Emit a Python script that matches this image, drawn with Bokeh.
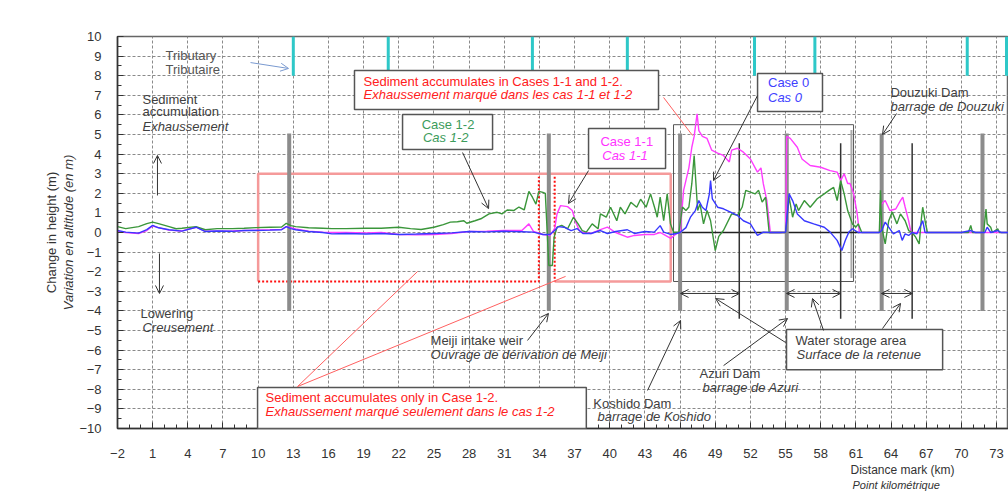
from bokeh.plotting import figure
from bokeh.models import Range1d, FixedTicker, Label, BoxAnnotation, Arrow, OpenHead, LinearAxis, Title
from bokeh.embed import file_html
from bokeh.resources import INLINE

# ---------------- data ----------------
x_ticks = list(range(-2, 74, 3))
y_ticks = list(range(-10, 11))

case0_km = [-2.0, -1.3, -0.2, 0.5, 1.0, 1.5, 2.4, 3.5, 4.7, 5.5, 6.5, 7.8, 8.8, 9.8, 11.0, 12.0, 12.4, 12.8,
            13.2, 14.3, 15.5, 16.3, 17.5, 19.2, 20.5, 22.0, 23.5, 25.0, 26.5, 28.0, 29.5, 31.0, 32.5, 33.5,
            34.3, 34.9, 35.3, 35.6, 36.1, 36.7, 37.2, 37.7, 38.4, 39.2, 39.8, 40.5, 41.5, 42.1, 43.0, 43.8,
            44.3, 44.6, 45.2, 45.7, 46.0, 46.5, 46.9, 47.3, 47.6, 47.9, 48.2, 48.5, 48.6, 48.75, 49.2, 49.7,
            50.3, 50.9, 51.4, 52.0, 52.6, 53.1, 53.7, 54.5, 55.0, 55.3, 55.6, 56.0, 56.6, 57.4, 58.3, 58.8,
            59.4, 59.8, 60.1, 60.4, 60.7, 61.2, 62.0, 63.0, 63.2, 63.5, 63.8, 64.2, 64.7, 64.95, 65.2, 65.5,
            65.8, 66.2, 66.7, 66.9, 68.0, 70.0, 70.8, 71.2, 72.0, 72.2, 72.5, 73.1, 73.4, 74.0]
case0_dz = [0.1, 0.02, -0.03, 0.15, 0.36, 0.24, 0.14, 0.07, 0.27, 0.05, 0.08, 0.06, 0.1, 0.1, 0.12, 0.14, 0.3, 0.2,
            0.14, 0.05, 0.0, -0.07, -0.05, -0.08, -0.05, -0.1, -0.08, -0.05, -0.02, 0.05, 0.03, 0.06, 0.04, 0.02,
            -0.1, -0.1, 0.1, 0.3, 0.27, 0.1, 0.2, -0.05, -0.05, 0.1, -0.05, 0.05, 0.14, -0.05, 0.05, 0.02,
            0.35, 0.02, -0.1, -0.05, 0.0, 0.25, 0.8, 1.12, 1.63, 1.29, 1.12, 1.97, 2.65, 1.72, 1.29, 1.21,
            1.04, 0.87, 0.6, 0.44, -0.15, 0.02, 0.0, 0.0, 0.02, 1.97, 1.63, 0.95, 0.6, 0.44, 0.27, 0.02,
            -0.4, -0.92, -0.4, 0.02, 0.19, 0.0, 0.0, 0.0, 0.1, 0.53, 0.27, -0.07, 0.1, -0.4, -0.07, -0.15,
            0.0, -0.07, 0.6, 0.0, 0.0, 0.0, 0.1, 0.0, 0.0, 0.27, 0.0, 0.1, 0.0, 0.0]

case11_km = [-2.0, -1.3, -0.2, 0.5, 1.0, 1.5, 2.4, 3.5, 4.7, 5.5, 6.5, 7.8, 8.8, 9.8, 11.0, 12.0, 12.4, 12.8,
             13.2, 14.3, 15.5, 16.3, 17.5, 19.2, 20.5, 22.0, 23.5, 25.0, 26.5, 28.0, 29.5, 31.0, 32.5, 33.1,
             33.5, 34.3, 34.9, 35.3, 35.5, 35.8, 36.4, 36.8, 37.1, 37.4, 37.7, 38.4, 39.2, 39.8, 40.5, 41.5,
             42.1, 43.0, 43.8, 44.3, 44.6, 45.2, 45.7, 46.0, 46.3, 46.75, 47.0, 47.2, 47.45, 47.6, 47.9, 48.3,
             48.7, 49.2, 49.7, 50.2, 50.4, 50.9, 51.4, 52.0, 52.6, 52.9, 53.1, 53.4, 53.7, 54.5, 55.0, 55.1,
             55.4, 56.0, 56.4, 57.1, 58.0, 58.8, 59.4, 59.7, 60.0, 60.3, 60.5, 60.8, 61.1, 61.3, 62.0, 63.0,
             63.2, 63.5, 63.9, 64.4, 64.8, 65.0, 65.2, 65.5, 65.7, 68.0, 74.0]
case11_dz = [0.05, 0.0, -0.05, 0.1, 0.33, 0.25, 0.12, 0.08, 0.27, 0.06, 0.06, 0.08, 0.1, 0.12, 0.14, 0.16, 0.3, 0.25,
             0.18, 0.07, 0.02, 0.0, 0.0, -0.02, 0.0, -0.1, -0.12, -0.1, -0.05, 0.05, 0.07, 0.1, 0.1, 0.44,
             0.05, -0.1, -0.15, 0.2, 0.95, 1.37, 1.32, 1.12, 0.53, 0.1, 0.0, -0.05, 0.15, 0.27, 0.0, -0.24,
             -0.15, -0.1, -0.1, 0.0, -0.1, -0.3, -0.05, 0.0, 2.15, 3.3, 4.35, 4.9, 6.05, 5.2, 4.9, 4.8,
             4.2, 4.05, 3.93, 3.6, 4.2, 4.3, 4.1, 3.75, 3.08, 3.3, 2.49, 1.64, 0.0, 0.0, 0.0, 4.9,
             4.8, 4.35, 3.75, 3.42, 3.33, 3.16, 3.08, 2.65, 3.0, 2.5, 2.5, 2.0, 1.0, 0.0, 0.0, 0.0,
             1.46, 1.63, 1.12, 1.2, 1.63, 1.8, 1.3, 0.6, 0.0, 0.0, 0.0]

case12_km = [-2.0, -1.3, -0.2, 0.5, 1.0, 1.5, 2.4, 3.0, 3.5, 4.7, 5.5, 6.5, 7.8, 8.8, 9.8, 11.0, 12.0, 12.4,
             12.8, 13.2, 14.3, 15.5, 16.3, 17.5, 19.2, 20.5, 22.0, 23.0, 23.9, 25.0, 25.8, 26.4, 27.0, 27.55,
             27.8, 28.5, 29.0, 29.7, 30.4, 30.8, 31.25, 31.8, 32.25, 32.7, 33.1, 33.4, 33.7, 33.95, 34.3, 34.5,
             34.8, 35.1, 35.25, 35.5, 35.9, 36.4, 36.9, 37.3, 37.65, 38.0, 38.5, 39.0, 39.2, 39.7, 40.07, 40.6,
             40.9, 41.3, 41.8, 42.3, 42.63, 43.1, 43.48, 43.9, 44.05, 44.3, 44.6, 44.9, 45.18, 45.45, 45.9, 46.2,
             46.5, 46.75, 47.0, 47.2, 47.5, 47.7, 48.0, 48.3, 48.6, 49.0, 49.3, 49.7, 50.4, 50.9, 51.3, 51.6,
             52.0, 52.4, 52.7, 53.0, 53.3, 53.6, 55.0, 55.1, 55.3, 55.6, 55.9, 56.1, 56.6, 57.1, 57.7, 58.3,
             58.7, 59.1, 59.4, 59.7, 60.0, 60.3, 60.7, 61.0, 61.2, 61.5, 63.0, 63.1, 63.2, 63.5, 63.8, 64.1,
             64.5, 64.8, 65.2, 65.5, 65.8, 66.1, 66.4, 66.6, 66.7, 66.9, 67.1, 70.6, 70.8, 70.95, 71.9, 72.1,
             72.2, 72.5, 72.65, 73.1, 73.25, 74.0]
case12_dz = [0.3, 0.2, 0.3, 0.45, 0.53, 0.45, 0.3, 0.19, 0.22, 0.3, 0.14, 0.2, 0.2, 0.22, 0.25, 0.27, 0.28, 0.47,
             0.35, 0.3, 0.24, 0.22, 0.2, 0.2, 0.22, 0.22, 0.27, 0.2, 0.15, 0.27, 0.4, 0.53, 0.55, 0.6,
             0.47, 0.6, 0.7, 0.95, 1.03, 0.95, 1.15, 1.12, 1.3, 1.15, 2.1, 1.8, 1.45, 2.1, 2.05, 2.0,
             -1.68, -1.68, -0.24, 0.27, 0.36, 0.19, 0.78, 0.44, 0.1, 0.02, 0.44, 0.19, 0.95, 0.78, 1.29, 0.6,
             1.29, 0.95, 1.54, 1.29, 1.7, 1.29, 1.97, 1.12, 0.78, 1.8, 0.6, 1.97, 0.44, 0.0, 0.0, 1.3,
             1.12, 1.3, 2.49, 3.93, 1.12, 1.46, 0.44, 1.12, 0.6, -0.92, -0.2, 0.1, 0.95, 0.87, 1.3, 2.15,
             2.06, 1.97, 2.15, 1.55, 1.8, 0.0, 0.0, 0.6, 1.8, 0.78, 1.46, 1.12, 1.63, 1.29, 1.72, 1.97,
             2.15, 2.3, 1.63, 2.65, 1.97, 1.12, 0.44, 0.27, 0.44, 0.0, 0.0, 2.15, 0.27, -0.58, 0.6, 1.04,
             0.44, 0.95, 0.6, 0.1, 0.0, -0.24, -0.58, 0.78, 1.29, 0.6, 0.0, 0.0, 0.36, 0.0, 0.0, 1.2,
             0.44, 0.27, 0.0, 0.19, 0.0, 0.0]

dam_km = [12.65, 34.8, 46.0, 55.1, 63.2, 71.8]          # thick grey bars
storage_end_km = [51.05, 59.7, 65.8]                   # thin black bars
tributary_km = [13.0, 21.1, 33.4, 41.5, 52.35, 57.5, 70.5, 73.85]

# ---------------- figure ----------------
FONT = "Liberation Sans"
p = figure(width=1008, height=492, x_range=Range1d(-2, 74.02), y_range=Range1d(-10, 10),
           output_backend="svg", toolbar_location=None,
           min_border_left=117, min_border_right=0, min_border_top=36, min_border_bottom=64)
p.background_fill_color = "white"
p.border_fill_color = "white"
p.outline_line_color = "#666666"
p.outline_line_width = 1.5

p.xaxis.ticker = FixedTicker(ticks=x_ticks, minor_ticks=list(range(-2, 75)))
p.yaxis.ticker = FixedTicker(ticks=y_ticks, minor_ticks=[v * 0.5 for v in range(-20, 21)])
for ax in (p.xaxis[0], p.yaxis[0]):
    ax.axis_line_color = "#333333"
    ax.axis_line_width = 1.5
    ax.major_tick_in = 6
    ax.major_tick_out = 0
    ax.minor_tick_in = 4
    ax.minor_tick_out = 0
    ax.major_tick_line_color = "#333333"
    ax.minor_tick_line_color = "#333333"
    ax.major_label_text_font = FONT
    ax.major_label_text_font_size = "13px"
    ax.major_label_text_color = "#333333"
p.xaxis.major_label_standoff = 20
p.yaxis.major_label_standoff = 16

# y-axis titles (inner italic line on the main axis, outer line on an extra label-only axis)
p.yaxis.axis_label = "Variation en altitude (en m)"
p.yaxis.axis_label_text_font = FONT
p.yaxis.axis_label_text_font_size = "13px"
p.yaxis.axis_label_text_font_style = "italic"
p.yaxis.axis_label_text_color = "#333333"
p.yaxis.axis_label_standoff = 0
outer = LinearAxis(axis_label="Change in height (m)", ticker=FixedTicker(ticks=[]),
                   axis_line_color=None, major_tick_line_color=None, minor_tick_line_color=None,
                   major_tick_in=0, major_tick_out=0, minor_tick_in=0, minor_tick_out=0,
                   major_label_standoff=0, major_label_text_font_size="0px", axis_label_standoff=0,
                   axis_label_text_font=FONT, axis_label_text_font_size="13px",
                   axis_label_text_font_style="normal", axis_label_text_color="#333333")
p.add_layout(outer, "left")

# x-axis titles (placed at the right, as in the original)
p.add_layout(Title(text="Distance mark  (km)", align="left", offset=733, standoff=0,
                   text_font=FONT, text_font_size="12px", text_font_style="normal",
                   text_color="#333333"), "below")
p.add_layout(Title(text="Point kilométrique", align="left", offset=735, standoff=0,
                   text_font=FONT, text_font_size="11px", text_font_style="italic",
                   text_color="#333333"), "below")

p.grid.grid_line_color = "#8a8a8a"
p.grid.grid_line_dash = "3 2"
p.grid.grid_line_width = 1

# -------- region outlines --------
reg_left, reg_right, reg_top, reg_bottom = 10.0, 45.2, 3.0, -2.5
weir_left, weir_right = 33.95, 35.3
pink = "#f59a9a"
p.line([reg_left, reg_left, reg_right, reg_right, weir_right],
       [reg_bottom, reg_top, reg_top, reg_bottom, reg_bottom], line_color=pink, line_width=2.5)
p.line([reg_left, weir_left, weir_left], [reg_bottom, reg_bottom, reg_top - 0.15],
       line_color="#ff1010", line_width=2, line_dash="2 2")
p.line([weir_right, weir_right], [reg_top - 0.15, reg_bottom],
       line_color="#ff1010", line_width=2, line_dash="2 2")

# water storage outline
ws_left, ws_right, ws_top, ws_bottom = 45.44, 60.8, 5.5, -2.5
p.line([ws_left, ws_left, ws_right, ws_right, ws_left],
       [ws_bottom, ws_top, ws_top, ws_bottom, ws_bottom], line_color="#555555", line_width=1)
p.line([60.62, 60.62], [5.2, -2.3], line_color="#555555", line_width=2, line_dash="1 1")

# zero line in reservoir stretch
p.line([45.4, 61.3], [0, 0], line_color="#222222", line_width=1.5)

# tributaries
p.segment(x0=tributary_km, y0=[10] * len(tributary_km), x1=tributary_km, y1=[8] * len(tributary_km),
          line_color="#2ec8c8", line_width=3)
# dams / weir
p.segment(x0=dam_km, y0=[5.05] * len(dam_km), x1=dam_km, y1=[-4.0] * len(dam_km),
          line_color="#8c8c8c", line_width=4)
p.segment(x0=storage_end_km, y0=[4.55] * len(storage_end_km), x1=storage_end_km,
          y1=[-4.4] * len(storage_end_km), line_color="#333333", line_width=1.5)

# -------- series --------
p.line(case11_km, case11_dz, line_color="#ff3dff", line_width=1.4)
p.line(case12_km, case12_dz, line_color="#3a963a", line_width=1.4)
p.line(case0_km, case0_dz, line_color="#3838ff", line_width=1.4)

# -------- annotation boxes --------
def box(l, r, t, b):
    p.add_layout(BoxAnnotation(left=l, right=r, top=t, bottom=b, fill_color="white", fill_alpha=1.0,
                               line_color="#555555", line_width=1.5, line_alpha=1.0))

box(9.95, 38.0, -7.91, -10.0)
box(18.22, 44.16, 8.27, 6.28)
box(22.32, 30.0, 6.02, 4.23)
box(38.19, 44.76, 5.31, 3.27)
box(52.61, 58.15, 8.11, 6.17)
box(55.08, 68.4, -4.95, -7.0)


def txt(x, y, s, color="#404040", italic=False, align="left", size="13px"):
    p.add_layout(Label(x=x, y=y, text=s, text_font=FONT, text_font_size=size, text_color=color,
                       text_font_style="italic" if italic else "normal", text_align=align,
                       text_baseline="middle"))


def arrow(x0, y0, x1, y1, color="#333333", both=False, head=True, width=1.0):
    p.add_layout(Arrow(x_start=x0, y_start=y0, x_end=x1, y_end=y1, line_color=color, line_width=width,
                       end=OpenHead(size=8, line_color=color, line_width=width) if head else None,
                       start=OpenHead(size=8, line_color=color, line_width=width) if both else None))


RED = "#ff2020"
txt(2.1, 9.03, "Tributary", "#555555")
txt(2.1, 8.32, "Tributaire", "#555555")
txt(0.13, 6.79, "Sediment")
txt(0.13, 6.17, "accumulation")
txt(0.13, 5.41, "Exhaussement", italic=True)
txt(-0.04, -4.13, "Lowering")
txt(0.13, -4.85, "Creusement", italic=True)
txt(10.63, -8.42, "Sediment accumulates only in Case 1-2.", RED)
txt(10.63, -9.13, "Exhaussement marqué seulement dans le cas 1-2", RED, italic=True)
txt(18.99, 7.70, "Sediment accumulates in Cases 1-1 and 1-2.", RED)
txt(18.99, 7.04, "Exhaussement marqué dans les cas 1-1 et 1-2", RED, italic=True)
txt(26.2, 5.51, "Case 1-2", "#3c9c5c", align="center")
txt(26.0, 4.85, "Cas 1-2", "#3c9c5c", italic=True, align="center")
txt(41.45, 4.64, "Case 1-1", "#ff33ff", align="center")
txt(41.3, 3.93, "Cas 1-1", "#ff33ff", italic=True, align="center")
txt(53.5, 7.65, "Case 0", "#4040ff")
txt(53.5, 6.89, "Cas 0", "#4040ff", italic=True)
txt(63.95, 7.14, "Douzuki Dam")
txt(63.95, 6.43, "barrage de Douzuki", italic=True)
txt(24.71, -5.51, "Meiji intake  weir")
txt(24.71, -6.22, "Ouvrage de dérivation de Meiji", italic=True)
txt(38.6, -8.72, "Koshido Dam")
txt(38.95, -9.39, "barrage de Koshido", italic=True)
txt(47.66, -7.19, "Azuri Dam")
txt(47.92, -7.91, "barrage de Azuri", italic=True)
txt(55.85, -5.51, "Water storage area")
txt(55.94, -6.22, "Surface de la retenue", italic=True)

# arrows
arrow(9.35, 8.67, 12.59, 8.37, color="#7a9ad0")
arrow(1.41, 1.89, 1.41, 3.93)
arrow(1.58, -1.07, 1.58, -3.11)
arrow(27.44, 4.08, 29.66, 1.22)
arrow(38.19, 3.16, 36.48, 1.48)
arrow(52.61, 6.99, 48.85, 2.65)
arrow(64.47, 6.07, 63.27, 5.0)
arrow(32.98, -5.51, 34.77, -4.13)
arrow(43.22, -8.06, 46.04, -4.49)
arrow(49.71, -6.79, 55.17, -4.39)
arrow(55.0, -5.61, 49.03, -3.37)
arrow(58.24, -5.0, 57.3, -3.37)
arrow(63.27, -4.9, 64.81, -3.62)
arrow(46.04, -3.11, 51.07, -3.11, both=True)
arrow(55.08, -3.11, 59.69, -3.11, both=True)
arrow(63.18, -3.11, 65.82, -3.11, both=True)
arrow(44.59, 6.89, 47.06, 4.95, color="#ff6060", head=False)
arrow(13.36, -7.86, 23.6, -1.99, color="#ff6060", head=False)
arrow(13.36, -7.86, 36.23, -2.24, color="#ff6060", head=False)

open("out.html", "w").write(file_html(p, INLINE))
